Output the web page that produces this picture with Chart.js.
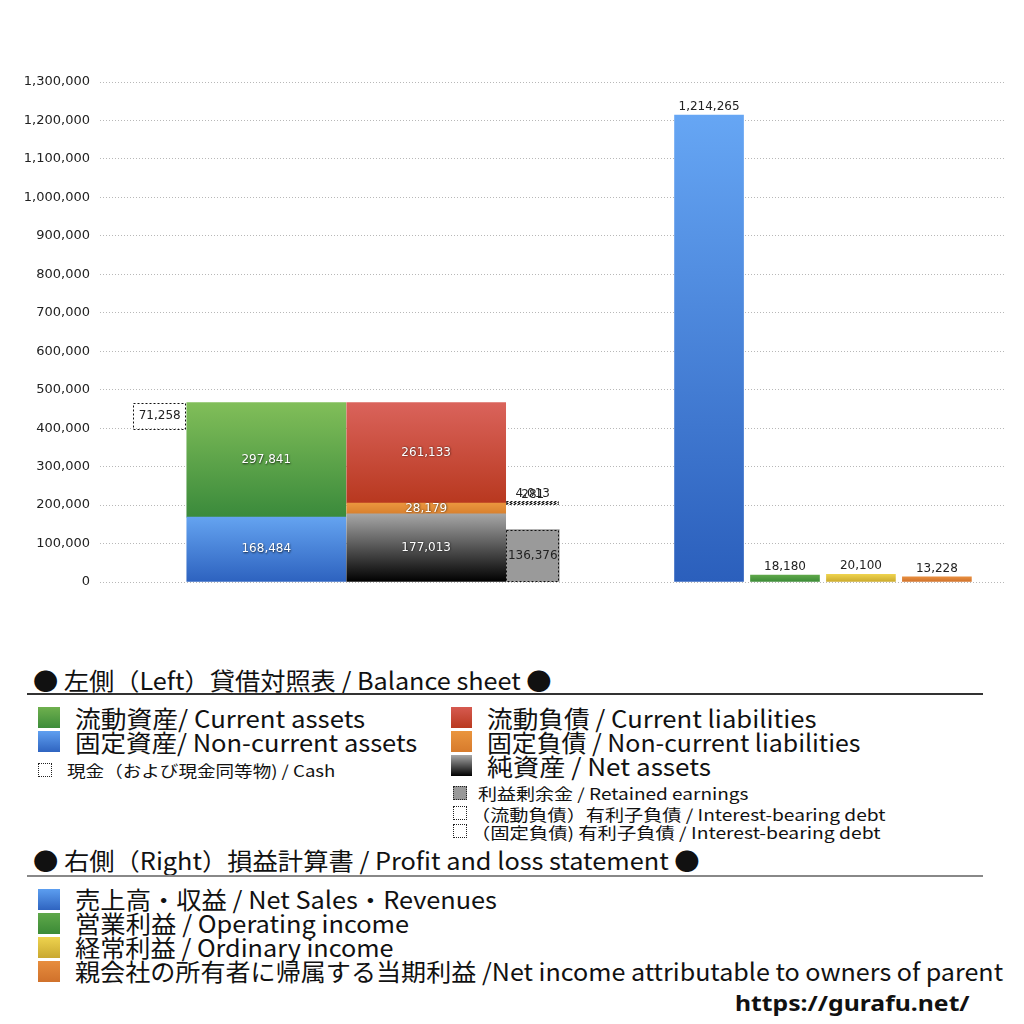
<!DOCTYPE html>
<html><head><meta charset="utf-8">
<script src="https://cdn.jsdelivr.net/npm/chart.js@4.4.1/dist/chart.umd.min.js"></script>
<style>
html,body{margin:0;padding:0;background:#fff;}
#wrap{position:relative;width:1024px;height:1024px;overflow:hidden;font-family:"Noto Sans CJK JP","Noto Sans",sans-serif;color:#111;}
#chartBox{position:absolute;left:0;top:0;width:1024px;height:610px;}
.t{position:absolute;white-space:nowrap;transform-origin:0 50%;line-height:1;}
.sq{position:absolute;box-sizing:border-box;}
.hr{position:absolute;}
</style></head>
<body>
<div id="wrap">
  <div id="chartBox"><canvas id="c"></canvas></div>
  <div id="legend"></div>
</div>
<script>
// ---------- DATA ----------
const bsLabels = ['現金（および現金同等物）', '流動資産', '固定資産', '流動負債', '固定負債', '純資産', '利益剰余金', '（流動負債）有利子負債', '（固定負債）有利子負債'];
const cashValue = 71258;
const currentAssets = 297841;
const nonCurrentAssets = 168484;
const currentLiabilities = 261133;
const nonCurrentLiabilities = 28179;
const netAssets = 177013;
const retainedEarnings = 136376;
const currentInterestDebt = 4013;
const nonCurrentInterestDebt = 281;

const plLabels = ['売上高・収益', '営業利益', '経常利益', '親会社の所有者に帰属する当期利益'];
const plValues = [1214265, 18180, 20100, 13228];

const yMax = 1300000;
const yStep = 100000;

// ---------- LAYOUT (slot units on the hidden x axis) ----------
const leftStart = 0.62;           // left group begins here
const leftWidths = [1, 3, 3, 1];  // cash | assets | liabilities | side boxes
const rightStart = 10.78, rightPitch = 1.425, rightWidth = 1.294;
const xMaxUnits = 16.98;
const leftCenters = [];
{ let acc = leftStart; leftWidths.forEach(w => { leftCenters.push(acc + w / 2); acc += w; }); }
const rightCenters = plValues.map((_, i) => rightStart + rightWidth / 2 + i * rightPitch);
const thinW = 53, wideW = 159, plW = 69;

function grad(top, bottom) {
  return (ctx) => {
    const chart = ctx.chart, ys = chart.scales.y;
    if (!chart.chartArea || !ys || !ctx.raw) return bottom;
    const r = ctx.raw.y;
    const p0 = ys.getPixelForValue(Math.max(r[0], r[1]));
    const p1 = ys.getPixelForValue(Math.min(r[0], r[1]));
    if (!isFinite(p0) || !isFinite(p1) || p0 === p1) return bottom;
    const g = chart.ctx.createLinearGradient(0, p0, 0, p1);
    g.addColorStop(0, top); g.addColorStop(1, bottom);
    return g;
  };
}

const assetsTotal = currentAssets + nonCurrentAssets;
const liabBase2 = netAssets + nonCurrentLiabilities;

const datasets = [
  { label: bsLabels[0], data: [{ x: leftCenters[0], y: [assetsTotal - cashValue, assetsTotal] }], barThickness: thinW,
    backgroundColor: 'rgba(255,255,255,0)', dotted: true, lbl: 'inDark' },
  { label: bsLabels[2], data: [{ x: leftCenters[1], y: [0, nonCurrentAssets] }], barThickness: wideW,
    backgroundColor: grad('#64a3f0', '#2d62bf'), lbl: 'inWhite' },
  { label: bsLabels[1], data: [{ x: leftCenters[1], y: [nonCurrentAssets, assetsTotal] }], barThickness: wideW,
    backgroundColor: grad('#81be59', '#3a8a3b'), lbl: 'inWhite' },
  { label: bsLabels[5], data: [{ x: leftCenters[2], y: [0, netAssets] }], barThickness: wideW,
    backgroundColor: grad('#a6a6a6', '#000000'), lbl: 'inWhite' },
  { label: bsLabels[4], data: [{ x: leftCenters[2], y: [netAssets, liabBase2] }], barThickness: wideW,
    backgroundColor: grad('#eb963e', '#d8802e'), lbl: 'inWhite' },
  { label: bsLabels[3], data: [{ x: leftCenters[2], y: [liabBase2, liabBase2 + currentLiabilities] }], barThickness: wideW,
    backgroundColor: grad('#da635b', '#b8381f'), lbl: 'inWhite' },
  { label: bsLabels[6], data: [{ x: leftCenters[3], y: [0, retainedEarnings] }], barThickness: thinW,
    backgroundColor: '#9a9a9a', dotted: true, lbl: 'inDark' },
  { label: bsLabels[8], data: [{ x: leftCenters[3], y: [liabBase2, liabBase2 + nonCurrentInterestDebt] }], barThickness: thinW,
    backgroundColor: 'rgba(255,255,255,0)', dotted: true, lbl: 'above' },
  { label: bsLabels[7], data: [{ x: leftCenters[3], y: [liabBase2 + nonCurrentInterestDebt, liabBase2 + nonCurrentInterestDebt + currentInterestDebt] }], barThickness: thinW,
    backgroundColor: 'rgba(255,255,255,0)', dotted: true, lbl: 'above' },
];
const plColors = [['#66a6f4', '#2b5fbc'], ['#5fa84a', '#3b8a36'], ['#eed34e', '#caa92c'], ['#e78d3e', '#d0712b']];
plValues.forEach((v, i) => {
  datasets.push({ label: plLabels[i], data: [{ x: rightCenters[i], y: [0, v] }], barThickness: plW,
    backgroundColor: grad(plColors[i][0], plColors[i][1]), lbl: 'above' });
});

const fmt = v => Math.round(v).toLocaleString('en-US');

const labelPlugin = {
  id: 'barLabels',
  afterDatasetsDraw(chart) {
    const c = chart.ctx;
    chart.data.datasets.forEach((ds, i) => {
      const meta = chart.getDatasetMeta(i);
      meta.data.forEach((el, j) => {
        const { x, y, base, width } = el.getProps(['x', 'y', 'base', 'width'], true);
        const top = Math.min(y, base), bot = Math.max(y, base);
        if (ds.dotted) {
          c.save();
          c.setLineDash([2, 2]);
          c.strokeStyle = '#111';
          c.lineWidth = 1;
          c.strokeRect(Math.round(x - width / 2) + 0.5, Math.round(top) + 0.5, Math.round(width) - 1, Math.max(1, Math.round(bot - top) - 1));
          c.restore();
        }
        const r = ds.data[j].y;
        const txt = fmt(r[1] - r[0]);
        c.save();
        c.font = '12px "DejaVu Sans", sans-serif';
        c.textAlign = 'center';
        if (ds.lbl === 'inWhite') {
          c.textBaseline = 'middle';
          c.shadowColor = 'rgba(0,0,0,0.75)';
          c.shadowBlur = 2; c.shadowOffsetX = 0.5; c.shadowOffsetY = 0.5;
          c.fillStyle = '#ffffff';
          c.fillText(txt, x, (top + bot) / 2);
        } else if (ds.lbl === 'inDark') {
          c.textBaseline = 'middle';
          c.fillStyle = '#222';
          c.fillText(txt, x, (top + bot) / 2);
        } else {
          c.textBaseline = 'bottom';
          c.fillStyle = '#222';
          c.fillText(txt, x, top - 2);
        }
        c.restore();
      });
    });
  }
};

new Chart(document.getElementById('c'), {
  type: 'bar',
  data: { datasets },
  plugins: [labelPlugin],
  options: {
    responsive: true, maintainAspectRatio: false, animation: false,
    layout: { padding: { top: 82, right: 19, bottom: 28, left: 0 } },
    datasets: { bar: { grouped: false, borderWidth: 0 } },
    plugins: { legend: { display: false }, tooltip: { enabled: false } },
    scales: {
      x: { type: 'linear', min: 0, max: xMaxUnits, offset: false, display: false },
      y: {
        min: 0, max: yMax,
        afterFit(s) { s.width = 100; },
        border: { display: false, dash: [1, 2] },
        grid: { color: '#b8b8b8', lineWidth: 1, drawTicks: false },
        ticks: { stepSize: yStep, padding: 10, color: '#222', font: { family: '"DejaVu Sans", sans-serif', size: 13 },
                 callback: v => fmt(v) }
      }
    }
  }
});

// ---------- LEGEND (HTML text) ----------
const L = document.getElementById('legend');
function txt(s, left, cy, size, w, extra) {
  const d = document.createElement('div');
  d.className = 't'; d.textContent = s;
  d.style.left = left + 'px'; d.style.top = (cy - size / 2) + 'px'; d.style.fontSize = size + 'px';
  if (extra) Object.assign(d.style, extra);
  d.dataset.w = w;
  L.appendChild(d);
}
function sq(left, top, w, h, bg, border) {
  const d = document.createElement('div');
  d.className = 'sq';
  Object.assign(d.style, { left: left + 'px', top: top + 'px', width: w + 'px', height: h + 'px', background: bg || 'transparent' });
  if (border) d.style.border = border;
  L.appendChild(d);
}
function hr(left, top, w, h, color) {
  const d = document.createElement('div');
  d.className = 'hr';
  Object.assign(d.style, { left: left + 'px', top: top + 'px', width: w + 'px', height: h + 'px', background: color });
  L.appendChild(d);
}
const lg = (a, b) => `linear-gradient(${a}, ${b})`;

txt('● 左側（Left）貸借対照表 / Balance sheet ●', 33, 680, 24, 519);
hr(27, 693, 956, 2, '#333');
sq(38, 707, 22, 21, lg('#6fb04e', '#3d8c3a'));
txt('流動資産/ Current assets', 75, 718, 24, 290);
sq(38, 731, 22, 21, lg('#5f9ff0', '#2f64c0'));
txt('固定資産/ Non-current assets', 75, 742, 24, 342);
sq(38, 763, 14, 14, '#fff', '1px dotted #222');
txt('現金（および現金同等物) / Cash', 67, 770, 16, 268);

sq(451, 707, 21, 21, lg('#d65a50', '#b9391f'));
txt('流動負債 /  Current liabilities', 487, 718, 24, 329);
sq(451, 731, 21, 21, lg('#ea953e', '#d77b2c'));
txt('固定負債 / Non-current liabilities', 487, 742, 24, 374);
sq(451, 755, 21, 21, lg('#a8a8a8', '#000'));
txt('純資産 / Net assets', 487, 766, 24, 224);
sq(453, 786, 14, 14, '#999', '1px dotted #222');
txt('利益剰余金 / Retained earnings', 478, 793, 16, 271);
sq(453, 806, 14, 14, '#fff', '1px dotted #222');
txt('（流動負債）有利子負債 / Interest-bearing debt', 471, 814, 16, 415);
sq(453, 824, 14, 14, '#fff', '1px dotted #222');
txt('（固定負債) 有利子負債 / Interest-bearing debt', 471, 832, 16, 410);

txt('● 右側（Right）損益計算書 / Profit and loss statement ●', 33, 860, 24, 667);
hr(27, 875, 956, 2, '#888');
sq(38, 889, 22, 21, lg('#5c9ef0', '#2f64c0'));
txt('売上高・収益 / Net Sales・Revenues', 75, 899, 24, 422);
sq(38, 913, 22, 21, lg('#5fa84a', '#3b8a36'));
txt('営業利益 / Operating income', 75, 923, 24, 334);
sq(38, 937, 22, 21, lg('#eed34e', '#c9a830'));
txt('経常利益 / Ordinary income', 75, 947, 24, 319);
sq(38, 961, 22, 21, lg('#e78d3e', '#d0712b'));
txt('親会社の所有者に帰属する当期利益 /Net income attributable to owners of parent', 75, 971, 24, 928);
txt('https://gurafu.net/', 735, 1002, 22, 235, { fontWeight: 'bold', fontFamily: '"Noto Sans","Liberation Sans",sans-serif' });

function fit() {
  document.querySelectorAll('#legend .t').forEach(d => {
    d.style.transform = 'none';
    const w = d.offsetWidth;
    if (w > 0) d.style.transform = `scaleX(${(+d.dataset.w) / w})`;
  });
}
fit();
if (document.fonts && document.fonts.ready) document.fonts.ready.then(fit);
</script>
</body></html>
